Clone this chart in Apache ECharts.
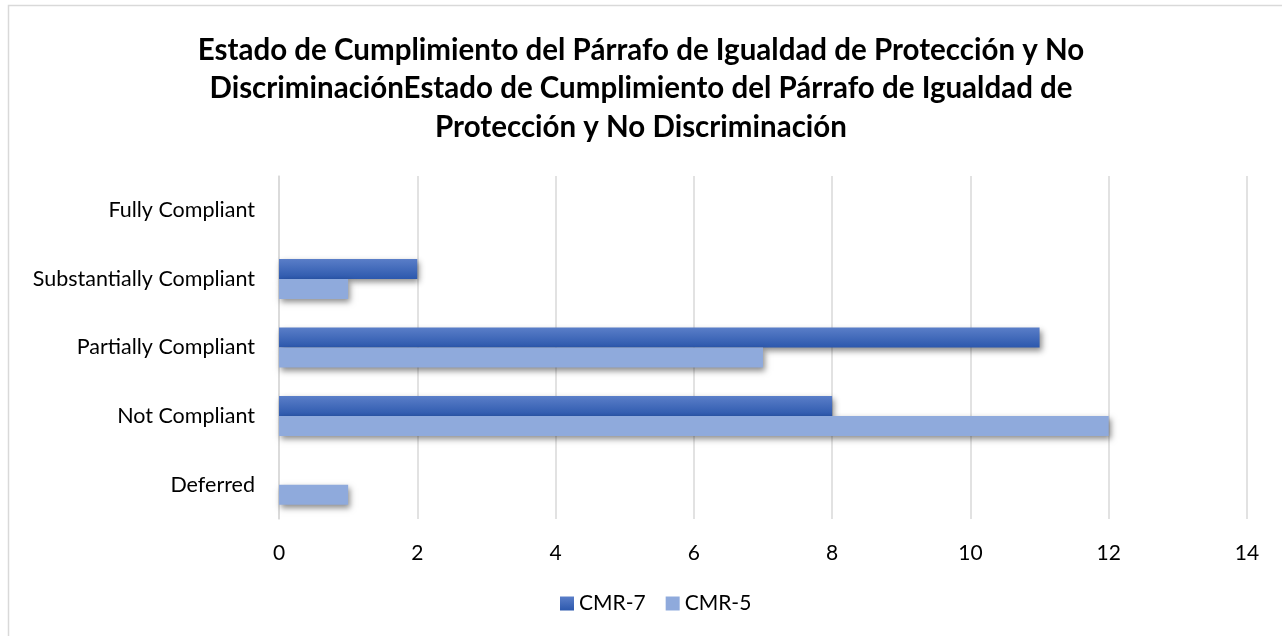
<!DOCTYPE html>
<html><head><meta charset="utf-8">
<script src="https://cdn.jsdelivr.net/npm/echarts@6/dist/echarts.min.js"></script>
<style>html,body{margin:0;padding:0;background:#fff}#c{width:1282px;height:636px}</style>
</head><body><div id="c"></div>
<script>
const titleLines = [
  "Estado de Cumplimiento del Párrafo de Igualdad de Protección y No",
  "DiscriminaciónEstado de Cumplimiento del Párrafo de Igualdad de",
  "Protección y No Discriminación"
];
const categories = ["Deferred", "Not Compliant", "Partially Compliant", "Substantially Compliant", "Fully Compliant"];
const seriesNames = ["CMR-7", "CMR-5"];
const cmr7 = [0, 8, 11, 2, 0];
const cmr5 = [1, 12, 7, 1, 0];
const xTicks = { min: 0, max: 14, interval: 2 };

const font = "Lato, 'Open Sans', sans-serif";
const chart = echarts.init(document.getElementById('c'), null, { renderer: 'canvas' });
const shadow = { shadowColor: 'rgba(0,0,0,0.45)', shadowBlur: 6, shadowOffsetX: 2, shadowOffsetY: 3 };
chart.setOption({
  animation: false,
  backgroundColor: '#fff',
  graphic: [{ type: 'rect', shape: { x: 8.5, y: 5.5, width: 1300, height: 700 }, style: { fill: 'none', stroke: '#d9d9d9', lineWidth: 1.5 }, silent: true, z: -1 }],
  title: {
    text: titleLines.join('\n'), left: 'center', top: 26,
    textStyle: { fontFamily: font, fontSize: 29.5, fontWeight: 'bold', color: '#000', lineHeight: 38.5 }
  },
  legend: {
    data: seriesNames, bottom: 17, left: 555, itemWidth: 14, itemHeight: 14, itemGap: 20,
    icon: 'rect',
    textStyle: { fontFamily: font, fontSize: 21, color: '#000' }
  },
  grid: { left: 279, right: 35, top: 176, bottom: 117, containLabel: false },
  xAxis: {
    type: 'value', min: xTicks.min, max: xTicks.max, interval: xTicks.interval,
    axisLine: { show: false }, axisTick: { show: false },
    splitLine: { lineStyle: { color: '#d9d9d9', width: 1.5 } },
    axisLabel: { fontFamily: font, fontSize: 21, color: '#000', margin: 24 }
  },
  yAxis: {
    type: 'category', data: categories,
    axisLine: { show: true, lineStyle: { color: '#d9d9d9', width: 1.5 } }, axisTick: { show: false },
    axisLabel: { fontFamily: font, fontSize: 21.5, color: '#000', margin: 24 }
  },
  series: [
    { name: seriesNames[0], type: 'bar', data: cmr7, barWidth: 20, barGap: '0%',
      itemStyle: Object.assign({ color: new echarts.graphic.LinearGradient(0, 0, 0, 1, [{ offset: 0, color: '#5a7ec8' }, { offset: 1, color: '#2c58ad' }]) }, shadow) },
    { name: seriesNames[1], type: 'bar', data: cmr5, barWidth: 20, barGap: '0%',
      itemStyle: Object.assign({ color: '#8faadc' }, shadow) }
  ]
});
</script></body></html>
